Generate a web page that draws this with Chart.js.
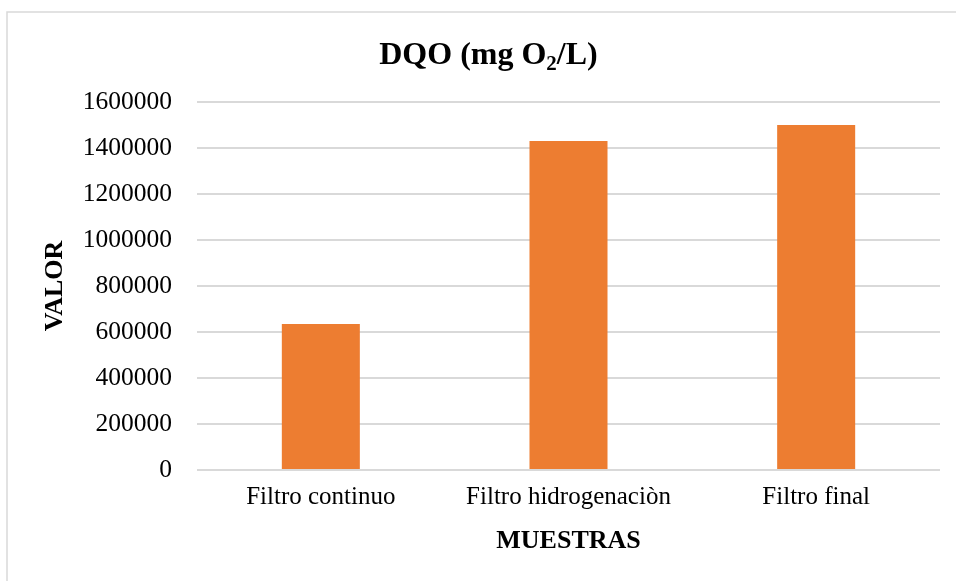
<!DOCTYPE html>
<html>
<head>
<meta charset="utf-8">
<style>
  html, body { margin: 0; padding: 0; background: #ffffff; }
  #wrap { width: 956px; height: 581px; position: relative; }
  canvas { display: block; }
</style>
<script src="https://cdn.jsdelivr.net/npm/chart.js@4"></script>
</head>
<body>
<div id="wrap"><canvas id="chart" width="956" height="581"></canvas></div>
<script>
// Chart content
const categories = ['Filtro continuo', 'Filtro hidrogenaciòn', 'Filtro final'];
const dqoValues = [635000, 1430000, 1500000];
const yTicks = [0, 200000, 400000, 600000, 800000, 1000000, 1200000, 1400000, 1600000];
const titleParts = ['DQO (mg O', '2', '/L)'];
const xAxisTitle = 'MUESTRAS';
const yAxisTitle = 'VALOR';

const SERIF = '"Liberation Serif", "Times New Roman", serif';

// Light frame around the chart and the title with a subscript
const framePlugin = {
  id: 'frame',
  beforeDraw(chart) {
    const ctx = chart.ctx;
    ctx.save();
    ctx.strokeStyle = '#d9d9d9';
    ctx.lineWidth = 1.5;
    ctx.beginPath();
    ctx.moveTo(7, chart.height);
    ctx.lineTo(7, 12);
    ctx.lineTo(chart.width, 12);
    ctx.stroke();
    ctx.restore();
  },
  afterDraw(chart) {
    const ctx = chart.ctx;
    ctx.save();
    ctx.fillStyle = '#000000';
    ctx.textBaseline = 'alphabetic';
    const mainFont = 'bold 32px ' + SERIF;
    const subFont = 'bold 21px ' + SERIF;
    ctx.font = mainFont;
    const w0 = ctx.measureText(titleParts[0]).width;
    const w2 = ctx.measureText(titleParts[2]).width;
    ctx.font = subFont;
    const w1 = ctx.measureText(titleParts[1]).width;
    const total = w0 + w1 + w2;
    let x = 488.5 - total / 2;
    const baseline = 64;
    ctx.font = mainFont;
    ctx.fillText(titleParts[0], x, baseline);
    x += w0;
    ctx.font = subFont;
    ctx.fillText(titleParts[1], x, baseline + 6);
    x += w1;
    ctx.font = mainFont;
    ctx.fillText(titleParts[2], x, baseline);
    ctx.restore();
  }
};

new Chart(document.getElementById('chart'), {
  type: 'bar',
  data: {
    labels: categories,
    datasets: [{
      label: 'DQO',
      data: dqoValues,
      backgroundColor: '#ED7D31',
      borderWidth: 0,
      barPercentage: 0.315,
      categoryPercentage: 1.0
    }]
  },
  options: {
    responsive: false,
    animation: false,
    devicePixelRatio: 1,
    layout: { padding: { left: 10, right: 16, top: 102, bottom: 0 } },
    plugins: {
      legend: { display: false },
      tooltip: { enabled: false },
      title: { display: false }
    },
    scales: {
      x: {
        grid: { display: false, drawTicks: false },
        border: { display: false },
        ticks: {
          color: '#000000',
          padding: 12,
          font: { family: SERIF, size: 25 }
        },
        title: {
          display: true,
          text: xAxisTitle,
          color: '#000000',
          font: { family: SERIF, size: 26, weight: 'bold' },
          padding: { top: 0, bottom: 24 }
        },
        afterFit(scale) { scale.height = 111; }
      },
      y: {
        min: 0,
        max: 1600000,
        afterBuildTicks(scale) { scale.ticks = yTicks.map(v => ({ value: v })); },
        grid: { color: '#d9d9d9', lineWidth: 2, drawTicks: false },
        border: { display: false },
        ticks: {
          color: '#000000',
          padding: 25,
          font: { family: SERIF, size: 25.5 },
          callback: (v) => String(v)
        },
        title: {
          display: true,
          text: yAxisTitle,
          color: '#000000',
          font: { family: SERIF, size: 26, weight: 'bold' },
          padding: { top: 30, bottom: 0 }
        },
        afterFit(scale) { scale.width = 187; }
      }
    }
  },
  plugins: [framePlugin]
});
</script>
</body>
</html>
